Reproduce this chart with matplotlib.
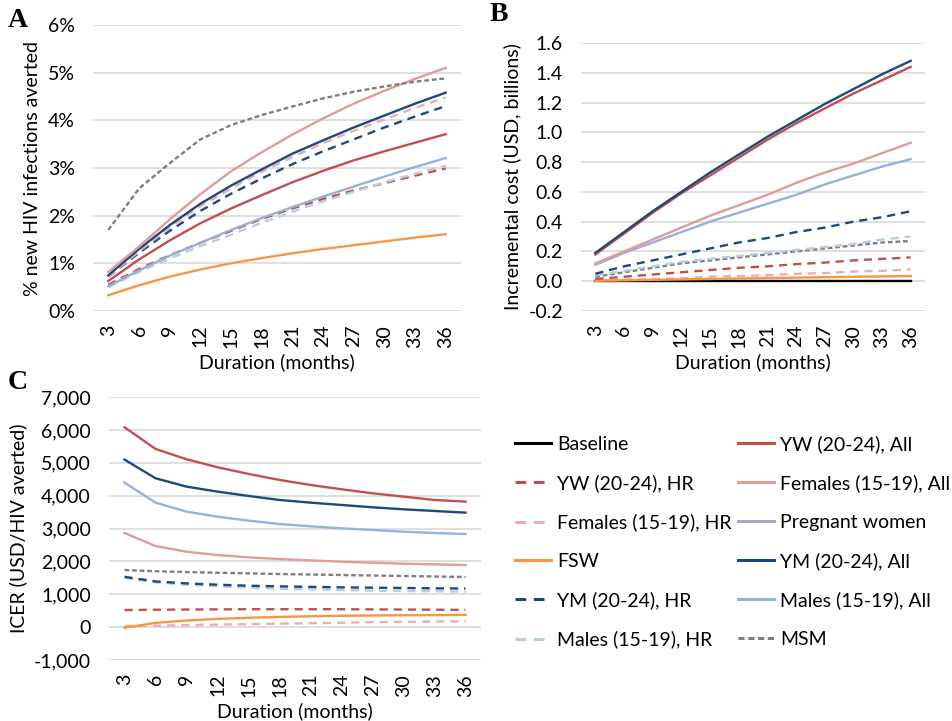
import matplotlib
matplotlib.use('Agg')
import matplotlib.pyplot as plt
from matplotlib.lines import Line2D
from matplotlib.ticker import FuncFormatter

plt.rcParams['font.family'] = ['Lato', 'DejaVu Sans']

months = [3, 6, 9, 12, 15, 18, 21, 24, 27, 30, 33, 36]

# A: % new HIV infections averted
a_yw_all = [0.63, 1.08, 1.48, 1.84, 2.15, 2.43, 2.70, 2.94, 3.16, 3.35, 3.53, 3.71]
a_yw_hr = [0.55, 0.88, 1.17, 1.43, 1.68, 1.93, 2.15, 2.35, 2.53, 2.68, 2.84, 2.99]
a_fem_all = [0.82, 1.35, 1.92, 2.45, 2.93, 3.33, 3.70, 4.04, 4.35, 4.62, 4.87, 5.10]
a_fem_hr = [0.72, 1.25, 1.75, 2.20, 2.57, 2.92, 3.23, 3.52, 3.78, 4.02, 4.26, 4.48]
a_fsw = [0.33, 0.54, 0.72, 0.87, 1.00, 1.11, 1.21, 1.30, 1.38, 1.46, 1.54, 1.61]
a_ym_all = [0.75, 1.30, 1.80, 2.25, 2.63, 2.97, 3.30, 3.58, 3.85, 4.10, 4.35, 4.58]
a_ym_hr = [0.72, 1.22, 1.68, 2.10, 2.46, 2.78, 3.08, 3.35, 3.60, 3.85, 4.08, 4.30]
a_mal_all = [0.52, 0.85, 1.16, 1.43, 1.70, 1.95, 2.18, 2.40, 2.61, 2.82, 3.02, 3.21]
a_mal_hr = [0.50, 0.82, 1.10, 1.36, 1.60, 1.85, 2.08, 2.30, 2.50, 2.70, 2.88, 3.05]
a_msm = [1.70, 2.57, 3.10, 3.60, 3.90, 4.11, 4.29, 4.46, 4.60, 4.71, 4.81, 4.88]

# B: incremental cost (USD, billions)
b_base = [0] * 12
b_yw_all = [0.18, 0.32, 0.46, 0.59, 0.71, 0.83, 0.95, 1.06, 1.16, 1.26, 1.35, 1.44]
b_yw_hr = [0.015, 0.03, 0.045, 0.06, 0.075, 0.09, 0.10, 0.115, 0.125, 0.14, 0.15, 0.16]
b_fem_all = [0.12, 0.20, 0.28, 0.36, 0.44, 0.51, 0.58, 0.66, 0.73, 0.79, 0.86, 0.93]
b_fem_hr = [0.005, 0.01, 0.015, 0.02, 0.03, 0.035, 0.04, 0.05, 0.055, 0.065, 0.07, 0.08]
b_fsw = [0.003, 0.006, 0.009, 0.012, 0.015, 0.018, 0.021, 0.024, 0.027, 0.03, 0.032, 0.035]
b_ym_all = [0.19, 0.33, 0.47, 0.60, 0.73, 0.85, 0.97, 1.08, 1.19, 1.29, 1.39, 1.48]
b_ym_hr = [0.05, 0.10, 0.14, 0.18, 0.22, 0.26, 0.29, 0.33, 0.36, 0.40, 0.43, 0.47]
b_mal_all = [0.11, 0.19, 0.26, 0.33, 0.40, 0.46, 0.52, 0.58, 0.65, 0.71, 0.77, 0.82]
b_mal_hr = [0.04, 0.07, 0.10, 0.13, 0.15, 0.17, 0.19, 0.21, 0.23, 0.25, 0.28, 0.30]
b_msm = [0.03, 0.06, 0.09, 0.12, 0.14, 0.16, 0.18, 0.20, 0.22, 0.24, 0.26, 0.27]

# C: ICER (USD per HIV infection averted)
c_yw_all = [6080, 5420, 5107, 4863, 4660, 4477, 4325, 4193, 4071, 3970, 3868, 3817]
c_yw_hr = [520, 530, 535, 540, 545, 545, 545, 545, 540, 535, 530, 525]
c_fem_all = [2863, 2467, 2294, 2193, 2122, 2071, 2030, 1990, 1959, 1929, 1909, 1888]
c_fem_hr = [30, 45, 60, 75, 90, 105, 120, 135, 150, 160, 170, 180]
c_fsw = [-20, 130, 200, 250, 285, 310, 330, 345, 355, 360, 365, 370]
c_ym_all = [5096, 4528, 4274, 4122, 3990, 3868, 3787, 3716, 3645, 3584, 3533, 3482]
c_ym_hr = [1530, 1390, 1330, 1290, 1260, 1240, 1225, 1210, 1200, 1190, 1180, 1175]
c_mal_all = [4396, 3787, 3513, 3360, 3239, 3137, 3066, 3005, 2954, 2904, 2863, 2832]
c_mal_hr = [1500, 1360, 1290, 1240, 1200, 1170, 1150, 1130, 1110, 1100, 1090, 1080]
c_msm = [1736, 1700, 1675, 1655, 1635, 1615, 1600, 1585, 1570, 1555, 1540, 1525]

LW = 1.7
DASH = (0, (3.5, 2.5))
SHORT = (0, (2, 1.2))
styles = {
    'base': dict(color='black', ls='-', label='Baseline'),
    'yw_all': dict(color='#C0504D', ls='-', label='YW (20-24), All'),
    'yw_hr': dict(color='#C0504D', ls=DASH, label='YW (20-24), HR'),
    'fem_all': dict(color='#E09C9A', ls='-', label='Females (15-19), All'),
    'fem_hr': dict(color='#E6B1B0', ls=DASH, label='Females (15-19), HR'),
    'preg': dict(color='#B3A2C7', ls='-', label='Pregnant women'),
    'fsw': dict(color='#F79646', ls='-', label='FSW'),
    'ym_all': dict(color='#1F497D', ls='-', label='YM (20-24), All'),
    'ym_hr': dict(color='#1F497D', ls=DASH, label='YM (20-24), HR'),
    'mal_all': dict(color='#95B3D7', ls='-', label='Males (15-19), All'),
    'mal_hr': dict(color='#B9CDE5', ls=DASH, label='Males (15-19), HR'),
    'msm': dict(color='#7F7F7F', ls=SHORT, label='MSM'),
}

W, H = 952, 721
fig = plt.figure(figsize=(W / 100, H / 100), dpi=100)
FS = 14


def px_axes(l, t, r, b):
    return fig.add_axes([l / W, 1 - b / H, (r - l) / W, (b - t) / H])


def draw(ax, series, ylim, yticks, fmt, ylabel):
    x = range(len(months))
    for key, vals in series:
        s = styles[key]
        ax.plot(x, vals, color=s['color'], ls=s['ls'], lw=LW)
    ax.set_xlim(-0.5, len(months) - 0.5)
    ax.set_xticks(list(x))
    ax.set_xticklabels([str(m) for m in months], rotation=90, fontsize=FS)
    ax.set_ylim(*ylim)
    ax.set_yticks(yticks)
    ax.yaxis.set_major_formatter(FuncFormatter(fmt))
    ax.tick_params(axis='y', labelsize=FS, length=0, pad=13)
    ax.tick_params(axis='x', length=0, pad=10)
    ax.grid(axis='y', color='#D9D9D9', lw=1.2)
    ax.set_axisbelow(True)
    for sp in ax.spines.values():
        sp.set_visible(False)
    ax.set_xlabel('Duration (months)', fontsize=FS, labelpad=4)
    ax.set_ylabel(ylabel, fontsize=FS, labelpad=5)


axA = px_axes(93, 25, 461, 311)
draw(axA, [('fsw', a_fsw), ('yw_hr', a_yw_hr), ('mal_hr', a_mal_hr), ('mal_all', a_mal_all),
           ('yw_all', a_yw_all), ('ym_hr', a_ym_hr), ('fem_hr', a_fem_hr), ('ym_all', a_ym_all),
           ('fem_all', a_fem_all), ('msm', a_msm)],
     (0, 6), [0, 1, 2, 3, 4, 5, 6], lambda v, p: f'{v:.0f}%',
     '% new HIV infections averted')

axB = px_axes(581, 43, 925, 311)
draw(axB, [('base', b_base), ('fem_hr', b_fem_hr), ('fsw', b_fsw), ('yw_hr', b_yw_hr),
           ('msm', b_msm), ('mal_hr', b_mal_hr), ('ym_hr', b_ym_hr), ('mal_all', b_mal_all),
           ('fem_all', b_fem_all), ('yw_all', b_yw_all), ('ym_all', b_ym_all)],
     (-0.2, 1.6), [-0.2, 0, 0.2, 0.4, 0.6, 0.8, 1.0, 1.2, 1.4, 1.6], lambda v, p: f'{v:.1f}',
     'Incremental cost (USD, billions)')

axC = px_axes(109, 397, 481, 660)
draw(axC, [('fem_hr', c_fem_hr), ('fsw', c_fsw), ('yw_hr', c_yw_hr), ('mal_hr', c_mal_hr),
           ('ym_hr', c_ym_hr), ('msm', c_msm), ('fem_all', c_fem_all), ('mal_all', c_mal_all),
           ('ym_all', c_ym_all), ('yw_all', c_yw_all)],
     (-1000, 7000), list(range(-1000, 7001, 1000)), lambda v, p: f'{v:,.0f}',
     'ICER (USD/HIV averted)')

for lbl, xp, yp in [('A', 8, 8), ('B', 490, 2), ('C', 8, 370)]:
    fig.text(xp / W, 1 - yp / H, lbl, fontsize=20, fontweight='bold',
             family='Liberation Serif', va='top', ha='left')

order = ['base', 'yw_hr', 'fem_hr', 'fsw', 'ym_hr', 'mal_hr',
         'yw_all', 'fem_all', 'preg', 'ym_all', 'mal_all', 'msm']
handles = [Line2D([], [], color=styles[k]['color'], ls=styles[k]['ls'], lw=2.2) for k in order]
labels = [styles[k]['label'] for k in order]
fig.legend(handles, labels, loc='upper left', bbox_to_anchor=(515 / W, 1 - 435 / H),
           ncol=2, frameon=False, fontsize=14, handlelength=1.85, handletextpad=0.3,
           columnspacing=0.35, labelspacing=1.1, borderpad=0, borderaxespad=0)

fig.savefig('out.png', dpi=100)
